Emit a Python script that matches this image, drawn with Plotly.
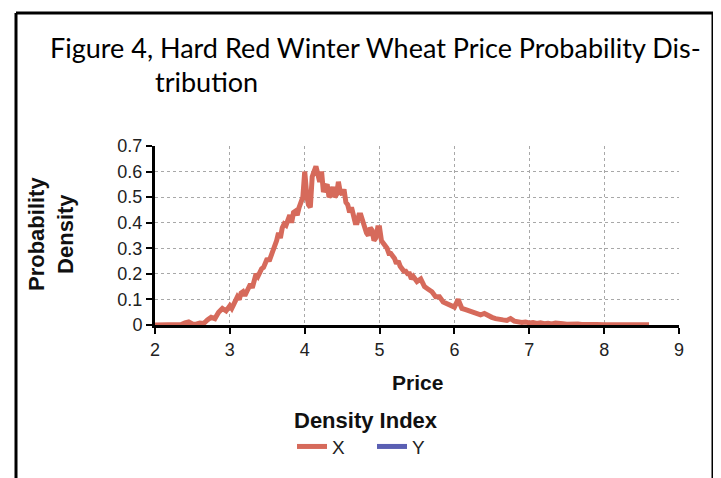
import plotly.graph_objects as go

price = [2.00, 2.05, 2.10, 2.15, 2.20, 2.25, 2.30, 2.35, 2.40, 2.45, 2.50, 2.55, 2.60, 2.65,
         2.70, 2.75, 2.80, 2.85, 2.90, 2.95,
         3.000, 3.025, 3.050, 3.075, 3.100, 3.125, 3.150, 3.175, 3.200, 3.225, 3.250, 3.275,
         3.300, 3.325, 3.350, 3.375, 3.400, 3.425, 3.450, 3.475, 3.500, 3.525, 3.550, 3.575,
         3.600, 3.625, 3.650, 3.675, 3.700, 3.725, 3.750, 3.775, 3.800, 3.825, 3.850, 3.875,
         3.900, 3.925, 3.950, 3.975, 4.000, 4.015, 4.030, 4.050, 4.075, 4.100, 4.125, 4.150,
         4.175, 4.200, 4.225, 4.250, 4.275, 4.300, 4.325, 4.350, 4.375, 4.400, 4.425, 4.450,
         4.475, 4.500, 4.525, 4.550, 4.575, 4.600, 4.625, 4.650, 4.675, 4.700, 4.725, 4.750,
         4.775, 4.800, 4.825, 4.850, 4.875, 4.900, 4.925, 4.950, 4.975, 5.000, 5.025, 5.050,
         5.075, 5.100, 5.125, 5.150, 5.175, 5.200, 5.225, 5.250, 5.275, 5.300, 5.325, 5.350,
         5.375, 5.400, 5.425, 5.450, 5.475, 5.500,
         5.55, 5.60, 5.65, 5.70, 5.75, 5.80, 5.85, 5.90, 5.95, 6.00, 6.05, 6.10,
         6.15, 6.20, 6.25, 6.30, 6.35, 6.40, 6.45, 6.50, 6.55, 6.60, 6.65, 6.70, 6.75, 6.80,
         6.85, 6.90, 6.95, 7.00, 7.05, 7.10, 7.15, 7.20, 7.25, 7.30, 7.35, 7.40, 7.45, 7.50,
         7.55, 7.60, 7.65, 7.70, 7.75, 7.80, 7.90, 8.00, 8.10, 8.20, 8.30, 8.40, 8.50, 8.60]
density_x = [0.000, 0.000, 0.000, 0.000, 0.000, 0.000, 0.000, 0.002, 0.008, 0.012, 0.004, 0.003, 0.008, 0.006,
             0.020, 0.030, 0.025, 0.050, 0.065, 0.055,
             0.075, 0.065, 0.080, 0.095, 0.110, 0.100, 0.125, 0.130, 0.115, 0.130, 0.150, 0.160,
             0.145, 0.175, 0.200, 0.190, 0.210, 0.220, 0.225, 0.250, 0.260, 0.250, 0.270, 0.290,
             0.300, 0.330, 0.360, 0.340, 0.380, 0.395, 0.390, 0.420, 0.430, 0.400, 0.440, 0.445,
             0.430, 0.460, 0.490, 0.500, 0.600, 0.540, 0.500, 0.470, 0.460, 0.580, 0.600, 0.620,
             0.590, 0.560, 0.600, 0.520, 0.540, 0.550, 0.500, 0.510, 0.540, 0.500, 0.510, 0.560,
             0.520, 0.510, 0.530, 0.480, 0.470, 0.440, 0.460, 0.420, 0.400, 0.400, 0.430, 0.430,
             0.400, 0.390, 0.360, 0.350, 0.380, 0.370, 0.330, 0.340, 0.380, 0.380, 0.330, 0.320,
             0.310, 0.300, 0.280, 0.280, 0.270, 0.260, 0.240, 0.250, 0.230, 0.220, 0.210, 0.210,
             0.200, 0.200, 0.180, 0.190, 0.175, 0.170,
             0.180, 0.150, 0.140, 0.130, 0.110, 0.110, 0.090, 0.085, 0.080, 0.070, 0.100, 0.065,
             0.060, 0.055, 0.050, 0.045, 0.040, 0.045, 0.035, 0.030, 0.025, 0.020, 0.020, 0.018, 0.025, 0.015,
             0.012, 0.010, 0.012, 0.008, 0.010, 0.006, 0.009, 0.005, 0.007, 0.004, 0.008, 0.004, 0.005, 0.003,
             0.004, 0.002, 0.004, 0.002, 0.003, 0.002, 0.002, 0.001, 0.002, 0.001, 0.001, 0.001, 0.001, 0.001]
price_y = [None]
density_y = [None]

x_ticks = [2, 3, 4, 5, 6, 7, 8, 9]
y_ticks = [0, 0.1, 0.2, 0.3, 0.4, 0.5, 0.6, 0.7]
y_tick_labels = ["0", "0.1", "0.2", "0.3", "0.4", "0.5", "0.6", "0.7"]

RED = "#d66a5b"
BLUE = "#5a5fb3"

fig = go.Figure()
fig.add_trace(go.Scatter(x=price, y=density_x, mode="lines", name="X",
                         line=dict(color=RED, width=5)))
fig.add_trace(go.Scatter(x=price_y, y=density_y, mode="lines", name="Y",
                         line=dict(color=BLUE, width=5)))

OFF = 8  # page body margin
W, H = 721 - OFF, 478 - OFF
L, R, T, B = 155 - OFF, 679 - OFF, 146 - OFF, 325 - OFF
pw, ph = R - L, B - T


def px(xp):
    return (xp - OFF - L) / pw


def py(yp):
    return (B - (yp - OFF)) / ph


grid = dict(showgrid=True, gridcolor="#a8a8a8", gridwidth=1, griddash="dot")
tfont = dict(family="Liberation Sans", size=18, color="#222")
fig.update_xaxes(range=[2, 9], tickvals=x_ticks, ticks="outside", ticklen=6, tickwidth=2,
                 tickcolor="black", showline=True, linecolor="black", linewidth=3,
                 tickfont=tfont, zeroline=False, **grid)
fig.update_yaxes(range=[0, 0.7], tickvals=y_ticks, ticktext=y_tick_labels, ticks="outside",
                 ticklen=6, tickwidth=2, tickcolor="black", showline=True, linecolor="black",
                 linewidth=3, tickfont=tfont, zeroline=False, **grid)

fig.update_layout(
    width=W, height=H,
    margin=dict(l=L, r=W - R, t=T, b=H - B, autoexpand=False),
    paper_bgcolor="white", plot_bgcolor="white",
    showlegend=True,
    legend=dict(orientation="h", x=px(292), xanchor="left", y=py(399), yanchor="top",
                title=dict(text="<b>Density Index</b>", side="top",
                           font=dict(family="Liberation Sans", size=22, color="#111")),
                font=dict(family="Liberation Sans", size=19, color="#222"),
                itemwidth=30, entrywidth=35, tracegroupgap=0),
    annotations=[
        dict(text="Figure 4, Hard Red Winter Wheat Price Probability Dis-", x=px(48), y=py(47),
             xref="paper", yref="paper", xanchor="left", yanchor="middle", showarrow=False,
             font=dict(family="Lato", size=27, color="black")),
        dict(text="tribution", x=px(153), y=py(82), xref="paper", yref="paper",
             xanchor="left", yanchor="middle", showarrow=False,
             font=dict(family="Lato", size=27, color="black")),
        dict(text="<b>Probability<br>Density</b>", x=px(51), y=py(234), xref="paper", yref="paper",
             xanchor="center", yanchor="middle", textangle=-90, showarrow=False,
             font=dict(family="Liberation Sans", size=22, color="#111")),
        dict(text="<b>Price</b>", x=px(417), y=py(382), xref="paper", yref="paper",
             xanchor="center", yanchor="middle", showarrow=False,
             font=dict(family="Liberation Sans", size=21, color="#111")),
    ],
    shapes=[
        dict(type="line", xref="paper", yref="paper", x0=px(16), x1=px(16), y0=py(13), y1=py(490),
             line=dict(color="black", width=3)),
        dict(type="line", xref="paper", yref="paper", x0=px(16), x1=px(713), y0=py(13), y1=py(13),
             line=dict(color="black", width=3)),
        dict(type="line", xref="paper", yref="paper", x0=px(713), x1=px(713), y0=py(13), y1=py(490),
             line=dict(color="black", width=3)),
    ],
)

fig.write_html("out.html")
